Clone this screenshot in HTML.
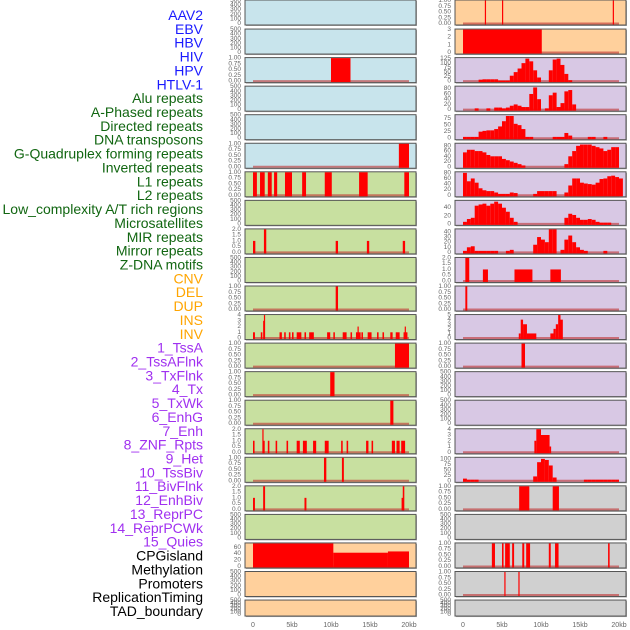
<!DOCTYPE html>
<html><head><meta charset="utf-8">
<style>
html,body{margin:0;padding:0;background:#fff;width:630px;height:630px;overflow:hidden}
svg{display:block;font-family:"Liberation Sans",sans-serif}
</style></head>
<body>
<svg id="chart" width="630" height="630" viewBox="0 0 630 630" xmlns="http://www.w3.org/2000/svg"></svg>
<script>
// ---- data ----
const trackLabels = ["AAV2","EBV","HBV","HIV","HPV","HTLV-1","Alu repeats","A-Phased repeats","Directed repeats","DNA transposons","G-Quadruplex forming repeats","Inverted repeats","L1 repeats","L2 repeats","Low_complexity A/T rich regions","Microsatellites","MIR repeats","Mirror repeats","Z-DNA motifs","CNV","DEL","DUP","INS","INV","1_TssA","2_TssAFlnk","3_TxFlnk","4_Tx","5_TxWk","6_EnhG","7_Enh","8_ZNF_Rpts","9_Het","10_TssBiv","11_BivFlnk","12_EnhBiv","13_ReprPC","14_ReprPCWk","15_Quies","CPGisland","Methylation","Promoters","ReplicationTiming","TAD_boundary"];
const labelGroups = ["b","b","b","b","b","b","g","g","g","g","g","g","g","g","g","g","g","g","g","o","o","o","o","o","p","p","p","p","p","p","p","p","p","p","p","p","p","p","p","k","k","k","k","k"];
const xTickValues = [0,5,10,15,20];
const xTickLabels = ["0","5kb","10kb","15kb","20kb"];

const ticks500 = [0,100,200,300,400,500];
const ticks1 = [0,0.25,0.5,0.75,1];
const ticks2 = [0,0.5,1,1.5,2];
const ticks3 = [0,1,2,3];
const ticks4 = [0,1,2,3,4];
const ticks5 = [0,1,2,3,4,5];
const ticks125 = [0,25,50,75,100,125];
const ticks80 = [0,20,40,60,80];
const ticks75 = [0,25,50,75];
const ticks40 = [0,20,40];
const ticks40b = [0,10,20,30,40];
const ticks100 = [0,25,50,75,100];
const ticks60 = [0,20,40,60];

// segments: [startKb, endKb, value]; bins: values per 0.5kb from 0kb
const segR0R = [[2.8,2.95,1],[5.0,5.15,1],[19.2,19.35,1]];
const segR1R = [[0,10.1,3]];
const segR2L = [[10.0,12.5,1]];
const binsR2R = [0,0,0,0,8,10,10,10,10,3,3,3,30,50,70,100,125,110,60,20,0,0,60,120,125,90,40,5,0,0,0,0,0,0,0,0,0,0,0,0,0];
const binsR3R = [0,0,0,5,0,0,5,0,8,8,5,8,15,20,15,10,10,60,85,40,0,5,55,65,10,25,70,75,20,0,0,0,0,0,0,0,0,0,0,0,0];
const binsR4R = [5,5,5,5,25,28,30,30,35,45,65,85,85,55,50,35,5,5,0,0,0,0,0,5,5,5,20,10,0,0,0,0,5,5,0,0,5,0,0,0,0];
const segR5L = [[18.7,20.0,1]];
const binsR5R = [55,65,65,60,60,55,45,40,40,40,30,25,20,15,10,5,0,0,0,0,0,0,0,0,0,0,10,40,60,80,85,85,85,80,75,70,60,65,75,75,0];
const segR6L = [[0,0.5,1],[0.9,1.5,1],[1.9,2.4,1],[2.7,3.1,1],[4.1,5.0,1],[6.3,6.8,1],[9.2,10.1,1],[13.6,14.7,1],[19.4,20.0,1]];
const binsR6R = [80,50,60,45,25,18,15,15,10,5,5,5,10,8,0,0,0,0,5,15,15,15,15,15,0,0,10,35,60,60,45,42,40,38,45,58,60,68,70,65,60];
const binsR7R = [5,12,15,45,48,50,45,50,55,50,40,30,15,5,0,0,0,0,0,0,0,0,0,0,0,0,15,25,22,15,10,10,12,10,5,3,3,3,0,0,0];
const segR8L = [[0,0.3,1],[1.4,1.7,2],[10.6,10.9,1],[14.6,14.9,1],[19.2,19.5,1]];
const binsR8R = [3,10,12,3,3,3,3,3,3,0,0,3,5,0,0,0,0,0,15,30,25,20,45,45,0,5,25,33,20,10,5,3,0,0,0,0,3,0,0,0,0];
const segR9R = [[0.3,0.8,2],[2.55,3.2,1],[6.6,8.9,1],[11.2,12.55,1]];
const segR10L = [[10.6,10.9,1]];
const segR10R = [[0.3,0.55,1]];
const segR11L = [[0,0.25,1],[1.0,1.2,1],[1.3,1.4,3],[1.4,1.55,4],[3.4,3.7,1],[4.0,4.2,1],[4.6,4.8,1],[5.0,5.2,1],[5.6,6.2,1],[6.6,6.8,1],[7.2,7.8,1],[9.5,9.9,1],[10.3,10.5,1],[11.5,12.0,1],[12.5,12.7,1],[13.2,13.8,1],[13.4,13.55,2],[13.9,14.1,1],[14.7,15.2,1],[15.9,16.1,1],[16.6,16.8,1],[17.6,17.9,1],[18.3,18.8,1],[19.3,19.8,1],[19.45,19.6,2]];
const segR11R = [[7.15,7.4,1],[7.4,7.7,4],[7.7,8.2,3],[8.2,9.4,1],[11.2,11.6,1],[11.6,11.9,2],[11.9,12.2,3],[12.2,12.5,5],[12.5,12.8,4]];
const segR12L = [[18.2,20.0,1]];
const segR12R = [[7.5,7.95,1]];
const segR13L = [[9.9,10.45,1]];
const segR14L = [[17.6,18.0,1]];
const segR15L = [[0,0.2,1],[1.2,1.35,2],[1.3,1.5,1],[1.9,2.1,1],[2.9,3.1,1],[4.3,4.5,1],[5.6,6.0,1],[6.4,6.9,1],[7.7,8.1,1],[9.2,9.7,1],[11.3,11.5,1],[12.0,12.2,1],[14.5,14.8,1],[15.2,15.4,1],[17.8,18.2,1],[18.4,18.8,1],[19.0,19.5,1]];
const segR15R = [[9.15,9.4,2],[9.4,10.0,4],[10.0,11.1,3],[11.1,11.3,1]];
const segR16L = [[9.1,9.4,1],[11.4,11.65,1]];
const binsR16R = [10,5,5,5,0,0,0,0,0,0,0,0,0,0,0,0,0,0,20,85,100,95,70,15,0,0,0,0,0,0,0,5,5,5,5,5,5,5,5,5,0];
const segR17L = [[0,0.25,1],[1.3,1.55,2],[6.6,6.85,1],[19.05,19.35,1],[19.2,19.4,2]];
const segR17R = [[7.2,8.5,1],[11.5,12.3,1]];
const segR19L = [[0,10.3,72],[10.3,17.3,43],[17.3,20.0,47]];
const segR19R = [[3.7,4.1,1],[5.0,5.2,1],[5.4,6.0,1],[6.3,6.55,1],[7.6,7.85,1],[8.1,8.6,1],[11.0,11.25,1],[11.8,12.25,1],[18.6,18.8,1]];
const segR20R = [[5.3,5.45,1],[7.1,7.25,1]];
const empty = [];

// panel list: [row, col, color, ymax, ticks, kind, data]
const panels = [
 [0,0,"blue",500,ticks500,"s",empty],[0,1,"orange",1,ticks1,"s",segR0R],
 [1,0,"blue",500,ticks500,"s",empty],[1,1,"orange",3,ticks3,"s",segR1R],
 [2,0,"blue",1,ticks1,"s",segR2L],[2,1,"lav",128,ticks125,"b",binsR2R],
 [3,0,"blue",500,ticks500,"s",empty],[3,1,"lav",88,ticks80,"b",binsR3R],
 [4,0,"blue",500,ticks500,"s",empty],[4,1,"lav",88,ticks75,"b",binsR4R],
 [5,0,"blue",1,ticks1,"s",segR5L],[5,1,"lav",88,ticks80,"b",binsR5R],
 [6,0,"green",1,ticks1,"s",segR6L],[6,1,"lav",82,ticks80,"b",binsR6R],
 [7,0,"green",500,ticks500,"s",empty],[7,1,"lav",57,ticks40,"b",binsR7R],
 [8,0,"green",2,ticks2,"s",segR8L],[8,1,"lav",45,ticks40b,"b",binsR8R],
 [9,0,"green",500,ticks500,"s",empty],[9,1,"lav",2,ticks2,"s",segR9R],
 [10,0,"green",1,ticks1,"s",segR10L],[10,1,"lav",1,ticks1,"s",segR10R],
 [11,0,"green",4,ticks4,"s",segR11L],[11,1,"lav",5,ticks5,"s",segR11R],
 [12,0,"green",1,ticks1,"s",segR12L],[12,1,"lav",1,ticks1,"s",segR12R],
 [13,0,"green",1,ticks1,"s",segR13L],[13,1,"lav",500,ticks500,"s",empty],
 [14,0,"green",1,ticks1,"s",segR14L],[14,1,"lav",500,ticks500,"s",empty],
 [15,0,"green",2,ticks2,"s",segR15L],[15,1,"lav",4,ticks4,"s",segR15R],
 [16,0,"green",1,ticks1,"s",segR16L],[16,1,"lav",105,ticks100,"b",binsR16R],
 [17,0,"green",2,ticks2,"s",segR17L],[17,1,"gray",1,ticks1,"s",segR17R],
 [18,0,"green",500,ticks500,"s",empty],[18,1,"gray",500,ticks500,"s",empty],
 [19,0,"orange",72,ticks60,"s",segR19L],[19,1,"gray",1,ticks1,"s",segR19R],
 [20,0,"orange",500,ticks500,"s",empty],[20,1,"gray",1,ticks1,"s",segR20R],
 [21,0,"orange",500,ticks500,"s",empty],[21,1,"gray",500,ticks500,"s",empty]
];

// ---- drawing ----
const NS = "http://www.w3.org/2000/svg";
const svg = document.getElementById("chart");
const fills = {blue:"#c8e4ec",green:"#c8e0a0",orange:"#ffd09c",lav:"#d8c8e4",gray:"#d0d0d0"};
const gcol = {b:"#1a1aff",g:"#116611",o:"#ffa500",p:"#a030f0",k:"#000"};
const colX = [245,455];
const colW = 171;
function xScale(col, kb){ return colX[col] + 8 + kb*7.8; }
function rowTop(r){ return r===0 ? 0 : 0.5 + r*28.55; }
function rowH(r){ return r===21 ? 16 : (r===0 ? 25 : 25); }
function mk(tag, attrs){ const e=document.createElementNS(NS,tag); for(const k in attrs) e.setAttribute(k,attrs[k]); return e; }
function fmt(t, ticks){
  if (ticks===ticks1) return t.toFixed(2);
  if (ticks===ticks2) return t.toFixed(1);
  return String(t);
}

// labels
trackLabels.forEach((name,i)=>{
  const t = mk("text",{x:203,y:15+13.86*i,"text-anchor":"end","dominant-baseline":"central","font-size":"14",fill:gcol[labelGroups[i]]});
  
  
  t.textContent = name;
  svg.appendChild(t);
});

panels.forEach(p=>{
  const [r,c,color,ymax,ticks,kind,data] = p;
  const top = rowTop(r), h = rowH(r), x0 = colX[c];
  const y0 = top + h - 1.5, yTop = top + 0.5;
  const yScale = v => y0 - (v/ymax)*(y0-yTop);
  const g = mk("g",{});
  
  
  svg.appendChild(g);
  g.appendChild(mk("rect",{x:x0+1,y:top+1,width:colW,height:h,fill:"#aaa"}));
  const bg = mk("rect",{x:x0,y:top,width:colW,height:h,fill:fills[color],stroke:"#555","stroke-width":1});
  
  
  g.appendChild(bg);
  // ticks
  ticks.forEach(t=>{
    const tl = mk("text",{x:x0-4,y:yScale(t),"text-anchor":"end","dominant-baseline":"central","font-size":"6.5",fill:"#666"});
    
    
    tl.textContent = fmt(t, ticks);
    g.appendChild(tl);
  });
  if (data.length===0) return;
  // baseline
  g.appendChild(mk("line",{x1:xScale(c,0),x2:xScale(c,20),y1:y0,y2:y0,stroke:"#c03030","stroke-width":2,"stroke-opacity":0.6}));
  const bars = [];
  if (kind==="b") data.forEach((v,i)=>{ if(v>0) bars.push([i*0.5, i*0.5+0.5, v]); });
  else data.forEach(s=>bars.push(s));
  bars.forEach(b=>{
    const xa = xScale(c,b[0]), xb = xScale(c,b[1]);
    const yv = yScale(b[2]);
    const rect = mk("rect",{x:xa,y:yv,width:Math.max(1.2,xb-xa),height:Math.max(0,y0-yv+1),fill:"#ff0000"});
    
    
    g.appendChild(rect);
  });
});

// x axes
[0,1].forEach(c=>{
  xTickValues.forEach((v,i)=>{
    const t = mk("text",{x:xScale(c,v),y:627,"text-anchor":"middle","font-size":"7",fill:"#666"});
    
    
    t.textContent = xTickLabels[i];
    svg.appendChild(t);
  });
});
</script>
</body></html>
